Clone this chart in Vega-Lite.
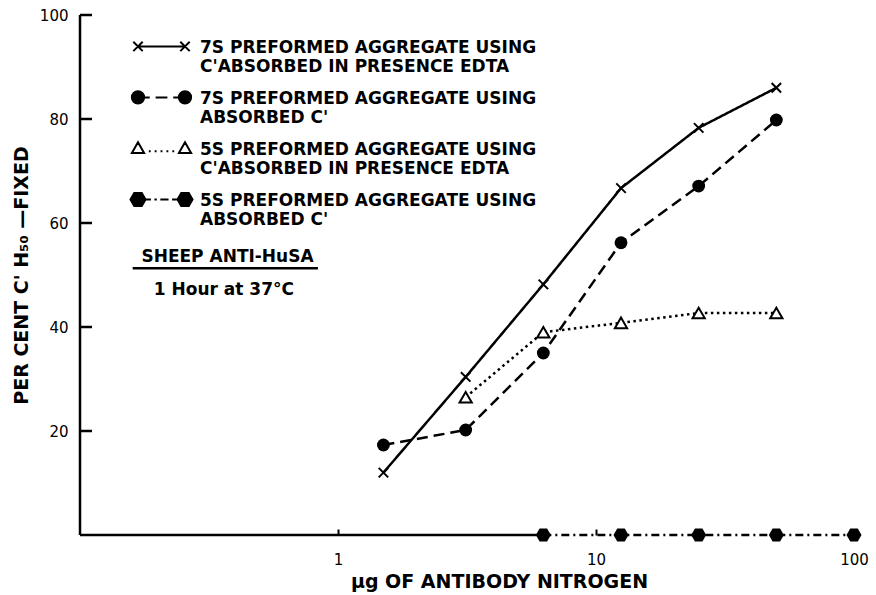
{
  "$schema": "https://vega.github.io/schema/vega-lite/v6.json",
  "width": 774,
  "height": 520,
  "autosize": "none",
  "padding": {"left": 80, "top": 15, "right": 22, "bottom": 60},
  "background": "white",
  "config": {
    "view": {"stroke": null},
    "font": "DejaVu Sans",
    "axis": {"labelFont": "DejaVu Sans", "titleFont": "DejaVu Sans", "labelColor": "black", "titleColor": "black", "domainColor": "black", "tickColor": "black", "grid": false},
    "axisX": {"domain": false, "tickSize": -6, "tickWidth": 2, "labelFontSize": 15, "labelPadding": 23, "labelFlush": false, "titleFontSize": 19, "titleFontWeight": "bold", "titlePadding": 5},
    "axisY": {"domain": false, "ticks": false, "labelFontSize": 15, "labelPadding": 12, "titleFontSize": 19, "titleFontWeight": "bold", "titlePadding": 8}
  },
  "datasets": {
    "points": [
      {"group": "7S EDTA", "x": 1.5, "y": 12},
      {"group": "7S EDTA", "x": 3.125, "y": 30.4},
      {"group": "7S EDTA", "x": 6.25, "y": 48.2},
      {"group": "7S EDTA", "x": 12.5, "y": 66.7},
      {"group": "7S EDTA", "x": 25, "y": 78.3},
      {"group": "7S EDTA", "x": 50, "y": 86},
      {"group": "7S absorbed", "x": 1.5, "y": 17.3},
      {"group": "7S absorbed", "x": 3.125, "y": 20.2},
      {"group": "7S absorbed", "x": 6.25, "y": 35},
      {"group": "7S absorbed", "x": 12.5, "y": 56.2},
      {"group": "7S absorbed", "x": 25, "y": 67.1},
      {"group": "7S absorbed", "x": 50, "y": 79.8},
      {"group": "5S EDTA", "x": 3.125, "y": 26.5},
      {"group": "5S EDTA", "x": 6.25, "y": 39},
      {"group": "5S EDTA", "x": 12.5, "y": 40.8},
      {"group": "5S EDTA", "x": 25, "y": 42.7},
      {"group": "5S EDTA", "x": 50, "y": 42.7},
      {"group": "5S absorbed", "x": 6.25, "y": 0},
      {"group": "5S absorbed", "x": 12.5, "y": 0},
      {"group": "5S absorbed", "x": 25, "y": 0},
      {"group": "5S absorbed", "x": 50, "y": 0},
      {"group": "5S absorbed", "x": 100, "y": 0}
    ],
    "legend": [
      {"label": "7S PREFORMED AGGREGATE USING|C'ABSORBED IN PRESENCE EDTA"},
      {"label": "7S PREFORMED AGGREGATE USING|ABSORBED C'"},
      {"label": "5S PREFORMED AGGREGATE USING|C'ABSORBED IN PRESENCE EDTA"},
      {"label": "5S PREFORMED AGGREGATE USING|ABSORBED C'"}
    ],
    "yticks": [{"v": 20}, {"v": 40}, {"v": 60}, {"v": 80}, {"v": 100}],
    "one": [{}]
  },
  "layer": [
    {
      "data": {"name": "points"},
      "mark": {"type": "line", "stroke": "black", "strokeWidth": 2.5},
      "encoding": {
        "x": {
          "field": "x", "type": "quantitative",
          "scale": {"type": "log", "domain": [0.1, 100], "nice": false},
          "axis": {"values": [1, 10, 100], "format": "d", "title": "μg OF ANTIBODY NITROGEN", "titleX": 419}
        },
        "y": {
          "field": "y", "type": "quantitative",
          "scale": {"domain": [0, 100], "nice": false},
          "axis": {"values": [20, 40, 60, 80, 100], "title": "PER CENT C' H₅₀ —FIXED"}
        },
        "strokeDash": {
          "field": "group", "type": "nominal",
          "scale": {"domain": ["7S EDTA", "7S absorbed", "5S EDTA", "5S absorbed"], "range": [[1, 0], [11, 6], [2.5, 3.5], [8, 4, 2, 4]]},
          "legend": null
        }
      }
    },
    {
      "data": {"name": "one"},
      "mark": {"type": "rule", "stroke": "black", "strokeWidth": 2.5},
      "encoding": {
        "x": {"datum": 0.1, "type": "quantitative"},
        "x2": {"datum": 6.25},
        "y": {"datum": 0, "type": "quantitative"}
      }
    },
    {
      "data": {"name": "one"},
      "mark": {"type": "rule", "stroke": "black", "strokeWidth": 2.5},
      "encoding": {
        "x": {"datum": 0.1, "type": "quantitative"},
        "y": {"datum": 0, "type": "quantitative"},
        "y2": {"datum": 100}
      }
    },
    {
      "data": {"name": "yticks"},
      "mark": {"type": "rule", "stroke": "black", "strokeWidth": 2.5},
      "encoding": {
        "x": {"datum": 0.1, "type": "quantitative"},
        "x2": {"datum": 0.1113},
        "y": {"field": "v", "type": "quantitative"}
      }
    },
    {
      "data": {"name": "points"},
      "transform": [{"filter": "datum.group == '7S EDTA'"}],
      "mark": {"type": "point", "shape": "M-1,-1L1,1M-1,1L1,-1", "size": 90, "filled": false, "stroke": "black", "strokeWidth": 2, "opacity": 1},
      "encoding": {"x": {"field": "x", "type": "quantitative"}, "y": {"field": "y", "type": "quantitative"}}
    },
    {
      "data": {"name": "points"},
      "transform": [{"filter": "datum.group == '7S absorbed'"}],
      "mark": {"type": "point", "shape": "circle", "size": 165, "filled": true, "fill": "black", "opacity": 1},
      "encoding": {"x": {"field": "x", "type": "quantitative"}, "y": {"field": "y", "type": "quantitative"}}
    },
    {
      "data": {"name": "points"},
      "transform": [{"filter": "datum.group == '5S EDTA'"}],
      "mark": {"type": "point", "shape": "triangle-up", "size": 150, "filled": true, "fill": "white", "stroke": "black", "strokeWidth": 2, "opacity": 1},
      "encoding": {"x": {"field": "x", "type": "quantitative"}, "y": {"field": "y", "type": "quantitative"}}
    },
    {
      "data": {"name": "points"},
      "transform": [{"filter": "datum.group == '5S absorbed'"}],
      "mark": {"type": "point", "shape": "M1,0L0.5,0.866L-0.5,0.866L-1,0L-0.5,-0.866L0.5,-0.866Z", "size": 225, "filled": true, "fill": "black", "opacity": 1},
      "encoding": {"x": {"field": "x", "type": "quantitative"}, "y": {"field": "y", "type": "quantitative"}}
    },
    {
      "data": {"name": "one"},
      "mark": {"type": "text", "text": "SHEEP ANTI-HuSA", "font": "DejaVu Sans", "fontSize": 17, "fontWeight": "bold", "align": "center", "baseline": "middle", "color": "black"},
      "encoding": {"x": {"datum": 0.373, "type": "quantitative"}, "y": {"datum": 53.5, "type": "quantitative"}}
    },
    {
      "data": {"name": "one"},
      "mark": {"type": "rule", "stroke": "black", "strokeWidth": 2.5},
      "encoding": {
        "x": {"datum": 0.16, "type": "quantitative"},
        "x2": {"datum": 0.836},
        "y": {"datum": 51.3, "type": "quantitative"}
      }
    },
    {
      "data": {"name": "one"},
      "mark": {"type": "text", "text": "1 Hour at 37°C", "font": "DejaVu Sans", "fontSize": 17, "fontWeight": "bold", "align": "center", "baseline": "middle", "color": "black"},
      "encoding": {"x": {"datum": 0.361, "type": "quantitative"}, "y": {"datum": 47.1, "type": "quantitative"}}
    },
    {
      "data": {"name": "legend"},
      "mark": {"type": "point", "filled": true, "opacity": 0, "size": 2209, "stroke": "black", "strokeWidth": 2},
      "encoding": {
        "shape": {
          "field": "label", "type": "nominal",
          "scale": {
            "domain": ["7S PREFORMED AGGREGATE USING|C'ABSORBED IN PRESENCE EDTA", "7S PREFORMED AGGREGATE USING|ABSORBED C'", "5S PREFORMED AGGREGATE USING|C'ABSORBED IN PRESENCE EDTA", "5S PREFORMED AGGREGATE USING|ABSORBED C'"],
            "range": [
              "M-1,-0.26L1,-0.26M-1.2,-0.46L-0.8,-0.06M-1.2,-0.06L-0.8,-0.46M0.8,-0.46L1.2,-0.06M0.8,-0.06L1.2,-0.46",
              "M-0.74,-0.26A0.26,0.26,0,1,1,-1.26,-0.26A0.26,0.26,0,1,1,-0.74,-0.26ZM1.26,-0.26A0.26,0.26,0,1,1,0.74,-0.26A0.26,0.26,0,1,1,1.26,-0.26ZM-0.74,-0.26L-0.5,-0.26M-0.25,-0.26L0.25,-0.26M0.5,-0.26L0.74,-0.26",
              "M-1,-0.52L-1.26,-0.06L-0.74,-0.06ZM1,-0.52L0.74,-0.06L1.26,-0.06ZM-0.54,-0.14L-0.46,-0.14M-0.29,-0.14L-0.21,-0.14M-0.04,-0.14L0.04,-0.14M0.21,-0.14L0.29,-0.14M0.46,-0.14L0.54,-0.14",
              "M-0.68,-0.26L-0.84,0.017L-1.16,0.017L-1.32,-0.26L-1.16,-0.537L-0.84,-0.537ZM1.32,-0.26L1.16,0.017L0.84,0.017L0.68,-0.26L0.84,-0.537L1.16,-0.537ZM-0.68,-0.26L-0.45,-0.26M-0.3,-0.26L-0.2,-0.26M-0.05,-0.26L0.3,-0.26M0.45,-0.26L0.68,-0.26"
            ]
          },
          "legend": {
            "title": null, "orient": "none", "legendX": 57, "legendY": 13, "padding": 0,
            "symbolSize": 2209, "symbolStrokeWidth": 2, "symbolStrokeColor": "black",
            "labelFont": "DejaVu Sans", "labelFontSize": 17, "labelFontWeight": "bold", "labelColor": "black",
            "labelLimit": 700, "labelOffset": 14, "labelBaseline": "alphabetic", "rowPadding": 4,
            "labelExpr": "[split(datum.label, '|')[0], '\u00a0\u00a0\u00a0\u00a0\u00a0\u00a0\u00a0' + split(datum.label, '|')[1]]",
            "encode": {"symbols": {"update": {"opacity": {"value": 1}}}, "labels": {"update": {"lineHeight": {"value": 19}}}}
          }
        },
        "fill": {
          "field": "label", "type": "nominal",
          "scale": {
            "domain": ["7S PREFORMED AGGREGATE USING|C'ABSORBED IN PRESENCE EDTA", "7S PREFORMED AGGREGATE USING|ABSORBED C'", "5S PREFORMED AGGREGATE USING|C'ABSORBED IN PRESENCE EDTA", "5S PREFORMED AGGREGATE USING|ABSORBED C'"],
            "range": ["black", "black", "white", "black"]
          },
          "legend": {
            "title": null, "orient": "none", "legendX": 57, "legendY": 13, "padding": 0,
            "symbolSize": 2209, "symbolStrokeWidth": 2, "symbolStrokeColor": "black",
            "labelFont": "DejaVu Sans", "labelFontSize": 17, "labelFontWeight": "bold", "labelColor": "black",
            "labelLimit": 700, "labelOffset": 14, "labelBaseline": "alphabetic", "rowPadding": 4,
            "labelExpr": "[split(datum.label, '|')[0], '\u00a0\u00a0\u00a0\u00a0\u00a0\u00a0\u00a0' + split(datum.label, '|')[1]]",
            "encode": {"symbols": {"update": {"opacity": {"value": 1}}}, "labels": {"update": {"lineHeight": {"value": 19}}}}
          }
        }
      }
    }
  ]
}
